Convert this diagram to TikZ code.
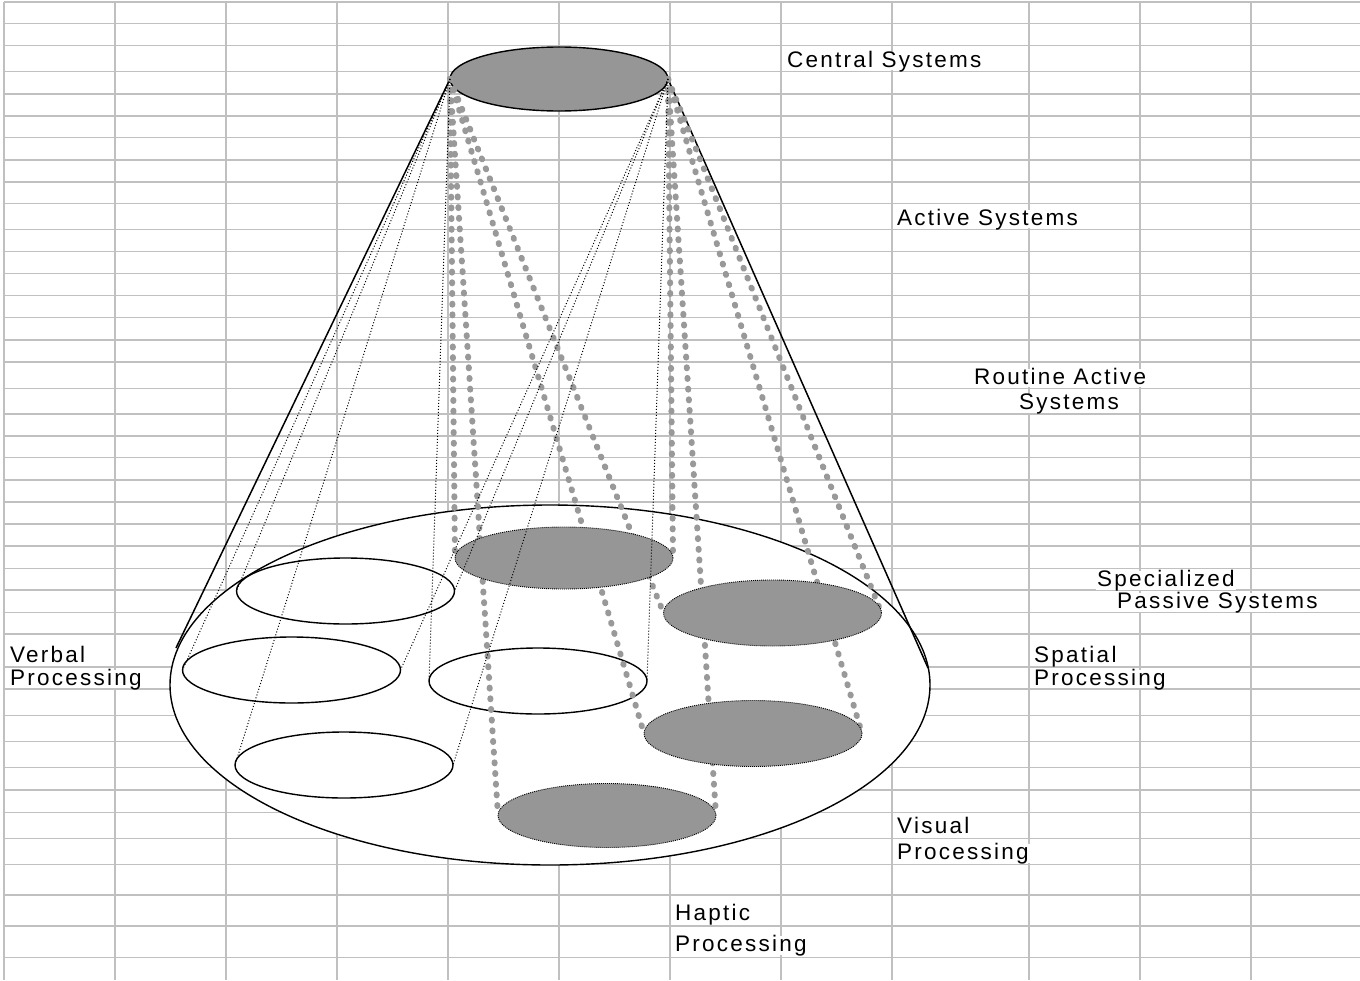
\documentclass[tikz,border=0pt]{standalone}
\usepackage{fontspec}
\usetikzlibrary{shapes.geometric}
\newfontfamily\lblfont{Liberation Sans}[LetterSpace=10]
\definecolor{gridc}{RGB}{192,192,192}
\definecolor{shade}{RGB}{150,150,150}
\definecolor{dotc}{RGB}{153,153,153}
\tikzset{
  gridline/.style={draw=gridc, line width=1.5pt},
  bigoval/.style={ellipse, draw=black, line width=1.4pt, fill=white, inner sep=0pt, outer sep=0pt},
  whiteoval/.style={ellipse, draw=black, line width=1.4pt, fill=white, minimum width=218pt, minimum height=66pt, inner sep=0pt, outer sep=0pt},
  topoval/.style={ellipse, draw=black, line width=1.4pt, fill=shade, minimum width=218pt, minimum height=64pt, inner sep=0pt, outer sep=0pt},
  grayoval/.style={ellipse, fill=shade, draw=black, line width=0.9pt, dash pattern=on 1pt off 1pt, minimum width=218pt, inner sep=0pt, outer sep=0pt},
  conel/.style={draw=black, line width=1.5pt},
  thinlink/.style={draw=black, line width=1pt, dash pattern=on 1pt off 2pt},
  graylink/.style={draw=dotc, line width=6pt, line cap=round, dash pattern=on 1pt off 9.7pt},
  lbl/.style={font=\lblfont\fontsize{22.5pt}{26pt}\selectfont, anchor=base west, fill=white, inner xsep=1pt, inner ysep=0pt, text height=15.5pt, text depth=3pt}
}
\begin{document}
\begin{tikzpicture}[x=1pt,y=-1pt]
\useasboundingbox (0,0) rectangle (1360,980);
\fill[white] (0,0) rectangle (1360,980);
% grid
\foreach \y in {2,23.7,45.7,71.7,94,116,137.7,160,182,203.7,229.7,251.7,273.7,295.7,317.7,340,362,388.3,414,436,457.7,480,502,524,546,568.3,590,612.3,634,667,689,715.7,741.7,767.3,790,812.3,838.3,864.3,895,926,957.3}
  \draw[gridline] (4,\y) -- (1360,\y);
\foreach \x in {4,115,226,337,448,559,670,781,892,1029,1140,1251}
  \draw[gridline] (\x,2) -- (\x,980);
% labels
\node[lbl] (lcentral) at (786,67) {Central Systems};
\node[lbl] (lactive) at (896,225) {Active Systems};
\node[lbl] (lroutine1) at (973,384) {Routine Active};
\node[lbl] (lroutine2) at (1018,409.5) {Systems};
\node[lbl] (lspec1) at (1096,586.5) {Specialized};
\node[lbl] (lspec2) at (1116,608.5) {Passive Systems};
\node[lbl] (lverbal1) at (9,662.5) {Verbal};
\node[lbl] (lverbal2) at (9,685) {Processing};
\node[lbl] (lspatial1) at (1033,662.5) {Spatial};
\node[lbl] (lspatial2) at (1033,685) {Processing};
\node[lbl] (lvisual1) at (896,833.5) {Visual};
\node[lbl] (lvisual2) at (896,859.5) {Processing};
\node[lbl] (lhaptic1) at (674,920.5) {Haptic};
\node[lbl] (lhaptic2) at (674,951.5) {Processing};
% base and top
\node[bigoval, minimum width=760pt, minimum height=360pt] (base) at (550,685) {};
\node[topoval] (top) at (559,79) {};
\coordinate (tanl) at (176,648);
\coordinate (tanr) at (928,668);
\draw[conel] (top.west) -- (tanl);
\draw[conel] (top.east) -- (tanr);
% white ovals
\node[whiteoval] (e1) at (345.5,591) {};
\node[whiteoval] (e2) at (291.5,670) {};
\node[whiteoval] (e3) at (344,765) {};
\node[whiteoval] (e4) at (538,681) {};
% gray ovals (placed first as coordinates for the links)
\coordinate (g1w) at (455,558);   \coordinate (g1e) at (673,558);
\coordinate (g2w) at (663.5,613); \coordinate (g2e) at (881.5,613);
\coordinate (g3w) at (644,733.5); \coordinate (g3e) at (862,733.5);
\coordinate (g4w) at (498,815.5); \coordinate (g4e) at (716,815.5);
% gray links
\draw[graylink] (top.west) -- (g1w);
\draw[graylink] (top.west) -- (g2w);
\draw[graylink] (top.west) -- (g3w);
\draw[graylink] (top.west) -- (g4w);
\draw[graylink] (top.east) -- (g1e);
\draw[graylink] (top.east) -- (g2e);
\draw[graylink] (top.east) -- (g3e);
\draw[graylink] (top.east) -- (g4e);
% gray ovals
\node[grayoval, minimum height=62pt] (g1) at (564,558) {};
\node[grayoval, minimum height=66pt] (g2) at (772.5,613) {};
\node[grayoval, minimum height=66pt] (g3) at (753,733.5) {};
\node[grayoval, minimum height=64pt] (g4) at (607,815.5) {};
% thin links
\draw[thinlink] (top.west) -- (e1.west);
\draw[thinlink] (top.west) -- (e2.west);
\draw[thinlink] (top.west) -- (e3.west);
\draw[thinlink] (top.west) -- (e4.west);
\draw[thinlink] (top.east) -- (e1.east);
\draw[thinlink] (top.east) -- (e2.east);
\draw[thinlink] (top.east) -- (e3.east);
\draw[thinlink] (top.east) -- (e4.east);
\end{tikzpicture}
\end{document}
